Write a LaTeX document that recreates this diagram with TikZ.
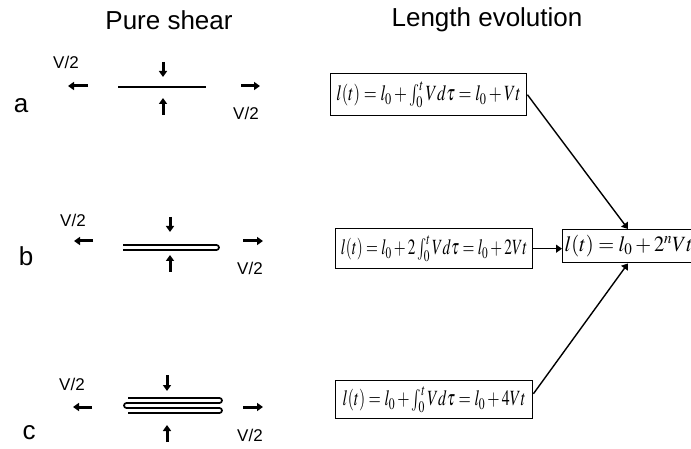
\documentclass[tikz,border=0pt]{standalone}
\usepackage{mathptmx}
\usepackage{fontspec}
\setmainfont{Liberation Sans}
\usetikzlibrary{positioning,arrows.meta,calc}

% squeezed formula text, as in the boxes of the figure
\newcommand{\fml}[2][0.93]{\scalebox{#1}[1.28]{$#2$}}

\begin{document}
\begin{tikzpicture}[
  x=1pt, y=-1pt,
  font=\fontsize{17}{20}\selectfont,
  >={Triangle[length=6pt,width=8pt]},
  force/.style={->, line width=3pt},
  layer/.style={line width=1.7pt, rounded corners=2.5pt},
  formula/.style={draw, line width=1.4pt, inner sep=2pt, anchor=north west,
                  font=\fontsize{17}{20}\selectfont},
  title/.style={font=\fontsize{26}{30}\selectfont},
  rowlabel/.style={font=\fontsize{26}{30}\selectfont},
]
\useasboundingbox (0,0) rectangle (691,449);
\clip (0,0) rectangle (691,449);

% Column titles
\node[title] (tshear) at (169,20) {Pure shear};
\node[title] (tlength) at (487,20) {Length evolution};

% --- Row a: flat layer ---
\node[rowlabel] (la) at (21,106) {a};
\node (va1) at (66,62) {V/2};
\node (va2) at (246,113) {V/2};
\draw[force] (88,86) -- (68,86);
\draw[force] (241,86) -- (260,86);
\draw[force] (163,62) -- (163,77);
\draw[force] (163,115) -- (163,98);
\draw[line width=2pt] (118,87) -- (206,87);

% --- Row b: layer folded once ---
\node[rowlabel] (lb) at (26,256) {b};
\node (vb1) at (73,220) {V/2};
\node (vb2) at (250,268) {V/2};
\draw[force] (93,241) -- (74,241);
\draw[force] (243,241) -- (263,241);
\draw[force] (170,217) -- (170,232);
\draw[force] (170,272) -- (170,255);
\draw[layer] (123,245) -- (219,245) -- (219,250) -- (123,250);

% --- Row c: layer folded twice ---
\node[rowlabel] (lc) at (29,433) {c};
\node (vc1) at (72,384) {V/2};
\node (vc2) at (250,435) {V/2};
\draw[force] (92,407) -- (73,407);
\draw[force] (243,407) -- (263,407);
\draw[force] (167,375) -- (167,391);
\draw[force] (167,442) -- (167,425);
\draw[layer] (128,398) -- (222,398) -- (222,403) -- (124,403)
  -- (124,408) -- (222,408) -- (222,413) -- (128,413);

% --- Length formulas ---
\node[formula, minimum width=196, minimum height=42] (boxa) at (330,73)
  {\fml[0.98]{l(t)=l_0+\int_0^t V d\tau = l_0+Vt}};
\node[formula, minimum width=197, minimum height=40] (boxb) at (335,228)
  {\fml[0.9]{l(t)=l_0+2\int_0^t V d\tau = l_0+2Vt}};
\node[formula, minimum width=197, minimum height=38] (boxc) at (335,380)
  {\fml[0.93]{l(t)=l_0+\int_0^t V d\tau = l_0+4Vt}};
% general formula, running off the right edge
\node[formula, minimum height=33, align=left, text width=150] (boxn) at (562,229)
  {\fml[1.2]{l(t)=l_0+2^n Vt}};
\coordinate (ntop) at ($(boxn.north west)+(66,0)$);
\coordinate (nbot) at ($(boxn.south west)+(66,0)$);

% Arrows into the general formula
\draw[->, line width=1.4pt] (boxa.east) -- (ntop);
\draw[->, line width=1.4pt] (boxb.east) -- (boxb.east -| boxn.west);
\draw[->, line width=1.4pt] ($(boxc.north east)!0.35!(boxc.south east)$) -- (nbot);

\end{tikzpicture}
\end{document}
